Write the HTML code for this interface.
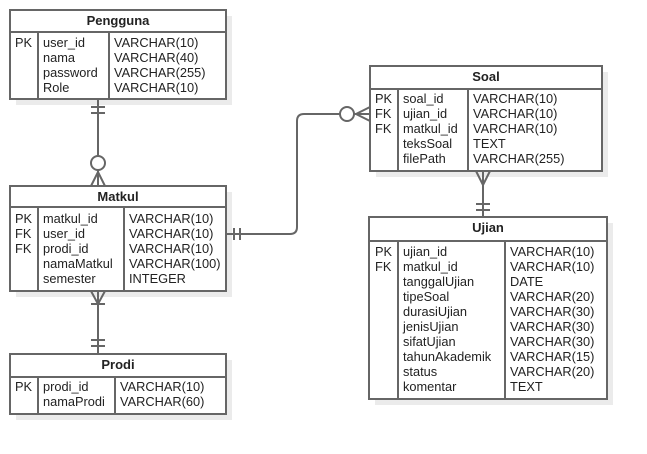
<!DOCTYPE html>
<html><head><meta charset="utf-8"><style>
html,body{margin:0;padding:0;background:#fff;}
svg{display:block;}
text{font-family:"Liberation Sans",sans-serif;font-size:12.8px;fill:#222;}
.h{font-weight:bold;font-size:13px;}
</style></head><body>
<svg width="647" height="454" viewBox="0 0 647 454" xmlns="http://www.w3.org/2000/svg">
<g fill="#ebebeb" stroke="none">
<rect x="16" y="16" width="216" height="89"/>
<rect x="16" y="192" width="216" height="105"/>
<rect x="16" y="360" width="216" height="60"/>
<rect x="376" y="72" width="232" height="105"/>
<rect x="375" y="223" width="238" height="182"/>
</g>
<g fill="#fff" stroke="#666" stroke-width="2">
<rect x="10" y="10" width="216" height="89"/>
<rect x="10" y="186" width="216" height="105"/>
<rect x="10" y="354" width="216" height="60"/>
<rect x="370" y="66" width="232" height="105"/>
<rect x="369" y="217" width="238" height="182"/>
</g>
<g stroke="#666" stroke-width="2" fill="none">
<line x1="10" y1="32" x2="226" y2="32"/><line x1="38" y1="32" x2="38" y2="99"/><line x1="109" y1="32" x2="109" y2="99"/>
<line x1="10" y1="207" x2="226" y2="207"/><line x1="38" y1="207" x2="38" y2="291"/><line x1="124" y1="207" x2="124" y2="291"/>
<line x1="10" y1="377" x2="226" y2="377"/><line x1="38" y1="377" x2="38" y2="414"/><line x1="115" y1="377" x2="115" y2="414"/>
<line x1="370" y1="89" x2="602" y2="89"/><line x1="398" y1="89" x2="398" y2="171"/><line x1="468" y1="89" x2="468" y2="171"/>
<line x1="369" y1="241" x2="607" y2="241"/><line x1="398" y1="241" x2="398" y2="399"/><line x1="505" y1="241" x2="505" y2="399"/>
<line x1="98" y1="99" x2="98" y2="156"/>
<line x1="91" y1="107" x2="105" y2="107"/><line x1="91" y1="113" x2="105" y2="113"/>
<circle cx="98" cy="163" r="7"/>
<line x1="98" y1="170" x2="98" y2="186"/>
<polyline points="91,186 98,172 105,186"/>
<line x1="98" y1="291" x2="98" y2="354"/>
<polyline points="91,291 98,304 105,291"/>
<line x1="91" y1="304" x2="105" y2="304"/>
<line x1="91" y1="340" x2="105" y2="340"/><line x1="91" y1="346" x2="105" y2="346"/>
<path d="M226 234 H290 Q297 234 297 227 V121 Q297 114 304 114 H340"/>
<line x1="234" y1="228" x2="234" y2="240"/><line x1="240" y1="228" x2="240" y2="240"/>
<circle cx="347" cy="114" r="7"/>
<line x1="354" y1="114" x2="370" y2="114"/>
<polyline points="370,107 356,114 370,121"/>
<line x1="483" y1="171" x2="483" y2="217"/>
<polyline points="476,171 483,185 490,171"/>
<line x1="476" y1="204" x2="490" y2="204"/><line x1="476" y1="210" x2="490" y2="210"/>
</g>
<text class="h" x="118" y="25" text-anchor="middle">Pengguna</text>
<text x="15" y="47">PK</text>
<text x="43" y="47">user_id</text><text x="43" y="62">nama</text><text x="43" y="77">password</text><text x="43" y="92">Role</text>
<text x="114" y="47">VARCHAR(10)</text><text x="114" y="62">VARCHAR(40)</text><text x="114" y="77">VARCHAR(255)</text><text x="114" y="92">VARCHAR(10)</text>

<text class="h" x="118" y="201" text-anchor="middle">Matkul</text>
<text x="15" y="223">PK</text><text x="15" y="238">FK</text><text x="15" y="253">FK</text>
<text x="43" y="223">matkul_id</text><text x="43" y="238">user_id</text><text x="43" y="253">prodi_id</text><text x="43" y="268">namaMatkul</text><text x="43" y="283">semester</text>
<text x="129" y="223">VARCHAR(10)</text><text x="129" y="238">VARCHAR(10)</text><text x="129" y="253">VARCHAR(10)</text><text x="129" y="268">VARCHAR(100)</text><text x="129" y="283">INTEGER</text>

<text class="h" x="118" y="369" text-anchor="middle">Prodi</text>
<text x="15" y="391">PK</text>
<text x="43" y="391">prodi_id</text><text x="43" y="406">namaProdi</text>
<text x="120" y="391">VARCHAR(10)</text><text x="120" y="406">VARCHAR(60)</text>

<text class="h" x="486" y="81" text-anchor="middle">Soal</text>
<text x="375" y="103">PK</text><text x="375" y="118">FK</text><text x="375" y="133">FK</text>
<text x="403" y="103">soal_id</text><text x="403" y="118">ujian_id</text><text x="403" y="133">matkul_id</text><text x="403" y="148">teksSoal</text><text x="403" y="163">filePath</text>
<text x="473" y="103">VARCHAR(10)</text><text x="473" y="118">VARCHAR(10)</text><text x="473" y="133">VARCHAR(10)</text><text x="473" y="148">TEXT</text><text x="473" y="163">VARCHAR(255)</text>

<text class="h" x="488" y="232" text-anchor="middle">Ujian</text>
<text x="375" y="256">PK</text><text x="375" y="271">FK</text>
<text x="403" y="256">ujian_id</text><text x="403" y="271">matkul_id</text><text x="403" y="286">tanggalUjian</text><text x="403" y="301">tipeSoal</text><text x="403" y="316">durasiUjian</text><text x="403" y="331">jenisUjian</text><text x="403" y="346">sifatUjian</text><text x="403" y="361">tahunAkademik</text><text x="403" y="376">status</text><text x="403" y="391">komentar</text>
<text x="510" y="256">VARCHAR(10)</text><text x="510" y="271">VARCHAR(10)</text><text x="510" y="286">DATE</text><text x="510" y="301">VARCHAR(20)</text><text x="510" y="316">VARCHAR(30)</text><text x="510" y="331">VARCHAR(30)</text><text x="510" y="346">VARCHAR(30)</text><text x="510" y="361">VARCHAR(15)</text><text x="510" y="376">VARCHAR(20)</text><text x="510" y="391">TEXT</text>
</svg>
</body></html>
